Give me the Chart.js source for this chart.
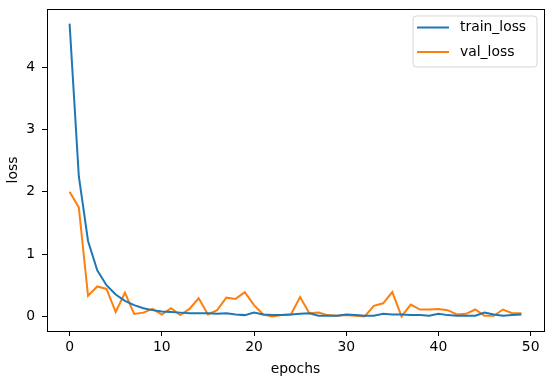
<!DOCTYPE html>
<html>
<head>
<meta charset="utf-8">
<script src="https://cdn.jsdelivr.net/npm/chart.js@4/dist/chart.umd.min.js"></script>
<style>
  html, body { margin: 0; padding: 0; background: #fff; }
  #wrap { width: 550px; height: 380px; position: relative; }
</style>
</head>
<body>
<div id="wrap"><canvas id="c" width="550" height="380"></canvas></div>
<script>
const epochs = Array.from({length: 50}, (_, i) => i);
const trainLoss = [4.70, 2.25, 1.21, 0.74, 0.50, 0.35, 0.25, 0.18, 0.13, 0.10,
                   0.08, 0.07, 0.06, 0.05, 0.05, 0.05, 0.04, 0.05, 0.03, 0.02,
                   0.06, 0.03, 0.02, 0.02, 0.03, 0.04, 0.05, 0.01, 0.01, 0.01,
                   0.03, 0.02, 0.01, 0.01, 0.04, 0.03, 0.03, 0.02, 0.02, 0.01,
                   0.04, 0.02, 0.01, 0.01, 0.01, 0.06, 0.03, 0.01, 0.02, 0.03];
const valLoss = [2.00, 1.75, 0.33, 0.48, 0.44, 0.07, 0.38, 0.04, 0.06, 0.12,
                 0.03, 0.13, 0.02, 0.12, 0.29, 0.03, 0.10, 0.30, 0.28, 0.39,
                 0.18, 0.03, 0.00, 0.02, 0.03, 0.31, 0.05, 0.06, 0.02, 0.01,
                 0.02, 0.01, 0.00, 0.17, 0.21, 0.39, 0.00, 0.19, 0.11, 0.11,
                 0.12, 0.10, 0.03, 0.04, 0.11, 0.01, 0.01, 0.11, 0.05, 0.05];
const xTicks = [0, 10, 20, 30, 40, 50];
const yTicks = [0, 1, 2, 3, 4];
const seriesNames = ['train_loss', 'val_loss'];
const seriesColors = ['#1f77b4', '#ff7f0e'];

const FONT = 'DejaVu Sans';
const FS = 13.9;

const framePlugin = {
  id: 'frame',
  afterDatasetsDraw(chart) {
    const {ctx, chartArea: a} = chart;
    ctx.save();
    ctx.strokeStyle = '#000';
    ctx.lineWidth = 1;
    ctx.strokeRect(Math.round(a.left) + 0.5, Math.round(a.top) + 0.5,
                   Math.round(a.right - a.left), Math.round(a.bottom - a.top));
    ctx.restore();
  }
};

const legendPlugin = {
  id: 'mplLegend',
  afterDraw(chart) {
    const {ctx} = chart;
    const x0 = 413, y0 = 16, w = 124, h = 51, r = 3;
    ctx.save();
    ctx.beginPath();
    ctx.moveTo(x0 + r, y0);
    ctx.lineTo(x0 + w - r, y0);
    ctx.quadraticCurveTo(x0 + w, y0, x0 + w, y0 + r);
    ctx.lineTo(x0 + w, y0 + h - r);
    ctx.quadraticCurveTo(x0 + w, y0 + h, x0 + w - r, y0 + h);
    ctx.lineTo(x0 + r, y0 + h);
    ctx.quadraticCurveTo(x0, y0 + h, x0, y0 + h - r);
    ctx.lineTo(x0, y0 + r);
    ctx.quadraticCurveTo(x0, y0, x0 + r, y0);
    ctx.closePath();
    ctx.fillStyle = 'rgba(255,255,255,0.8)';
    ctx.fill();
    ctx.strokeStyle = '#d6d6d6';
    ctx.lineWidth = 1;
    ctx.stroke();
    const rows = [27.5, 52];
    seriesNames.forEach((name, i) => {
      ctx.strokeStyle = seriesColors[i];
      ctx.lineWidth = 2;
      ctx.beginPath();
      ctx.moveTo(417, rows[i]);
      ctx.lineTo(449, rows[i]);
      ctx.stroke();
      ctx.fillStyle = '#000';
      ctx.font = FS + 'px "' + FONT + '"';
      ctx.textBaseline = 'middle';
      ctx.textAlign = 'left';
      ctx.fillText(name, 460, rows[i]);
    });
    ctx.restore();
  }
};

const toPoints = (ys) => epochs.map((e, i) => ({x: e, y: ys[i]}));

new Chart(document.getElementById('c'), {
  type: 'line',
  data: {
    datasets: [
      {label: seriesNames[0], data: toPoints(trainLoss), borderColor: seriesColors[0],
       borderWidth: 2, pointRadius: 0, tension: 0, fill: false},
      {label: seriesNames[1], data: toPoints(valLoss), borderColor: seriesColors[1],
       borderWidth: 2, pointRadius: 0, tension: 0, fill: false}
    ]
  },
  options: {
    responsive: false,
    animation: false,
    devicePixelRatio: 1,
    layout: {padding: {top: 9, right: 6, left: 0, bottom: 0}},
    plugins: {legend: {display: false}, tooltip: {enabled: false}},
    scales: {
      x: {
        type: 'linear',
        min: -2.45, max: 51.45,
        afterBuildTicks: (s) => { s.ticks = xTicks.map(v => ({value: v})); },
        afterFit: (s) => { s.height = 49; s.paddingLeft = 0; s.paddingRight = 0; },
        grid: {display: true, drawOnChartArea: false, drawTicks: true, tickLength: 5, color: '#000'},
        border: {display: false},
        ticks: {color: '#000', padding: 3, maxRotation: 0, font: {family: FONT, size: FS}},
        title: {display: true, text: 'epochs', color: '#000', padding: {top: 0, bottom: 2},
                font: {family: FONT, size: FS}}
      },
      y: {
        type: 'linear',
        min: -0.235, max: 4.935,
        afterBuildTicks: (s) => { s.ticks = yTicks.map(v => ({value: v})); },
        afterFit: (s) => { s.width = 47; s.paddingTop = 0; s.paddingBottom = 0; },
        grid: {display: true, drawOnChartArea: false, drawTicks: true, tickLength: 5, color: '#000'},
        border: {display: false},
        ticks: {color: '#000', padding: 7, font: {family: FONT, size: FS}},
        title: {display: true, text: 'loss', color: '#000', padding: {top: 5, bottom: 0},
                font: {family: FONT, size: FS}}
      }
    }
  },
  plugins: [framePlugin, legendPlugin]
});
</script>
</body>
</html>
